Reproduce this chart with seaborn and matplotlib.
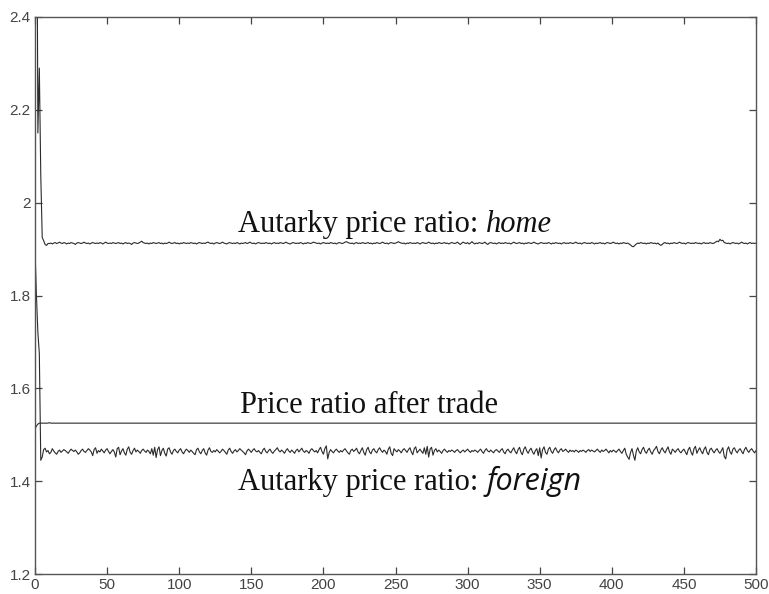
import numpy as np
import pandas as pd
import matplotlib
matplotlib.use("Agg")
import matplotlib.pyplot as plt
import seaborn as sns

# Price ratios per iteration (0..500)
home_ratio = [
    2.900, 2.900, 2.150, 2.290, 2.060, 1.925, 1.918, 1.910, 1.908, 1.912,
    1.912, 1.913, 1.911, 1.913, 1.914, 1.912, 1.913, 1.915, 1.913, 1.912, 1.914, 1.913, 1.911, 1.913, 1.912, 1.914, 1.913, 1.912, 1.910, 1.913, 1.914, 1.913, 1.912, 1.913, 1.915,
    1.913, 1.912, 1.913, 1.911, 1.913, 1.914, 1.913, 1.912, 1.913, 1.912, 1.914, 1.913, 1.911, 1.913, 1.915, 1.913, 1.912, 1.913, 1.912, 1.914, 1.913, 1.912, 1.913, 1.914, 1.912,
    1.913, 1.911, 1.913, 1.914, 1.912, 1.913, 1.912, 1.910, 1.913, 1.914, 1.913, 1.912, 1.913, 1.915, 1.917, 1.914, 1.913, 1.912, 1.913, 1.911, 1.913, 1.912, 1.914, 1.913, 1.912,
    1.913, 1.914, 1.912, 1.913, 1.911, 1.913, 1.912, 1.913, 1.915, 1.913, 1.912, 1.913, 1.914, 1.912, 1.913, 1.911, 1.913, 1.912, 1.914, 1.913, 1.912, 1.913, 1.912, 1.914, 1.913,
    1.912, 1.913, 1.911, 1.913, 1.914, 1.913, 1.912, 1.913, 1.912, 1.914, 1.915, 1.913, 1.912, 1.913, 1.911, 1.913, 1.914, 1.913, 1.912, 1.913, 1.915, 1.913, 1.912, 1.911, 1.913,
    1.914, 1.913, 1.912, 1.913, 1.912, 1.914, 1.913, 1.911, 1.913, 1.912, 1.913, 1.914, 1.912, 1.913, 1.915, 1.913, 1.912, 1.913, 1.911, 1.913, 1.914, 1.913, 1.912, 1.913, 1.912,
    1.914, 1.913, 1.912, 1.913, 1.911, 1.913, 1.914, 1.912, 1.913, 1.912, 1.914, 1.913, 1.912, 1.913, 1.915, 1.913, 1.912, 1.911, 1.913, 1.914, 1.913, 1.912, 1.913, 1.912, 1.914,
    1.913, 1.911, 1.913, 1.912, 1.914, 1.913, 1.912, 1.913, 1.915, 1.914, 1.913, 1.912, 1.913, 1.911, 1.913, 1.914, 1.913, 1.912, 1.913, 1.912, 1.914, 1.913, 1.912, 1.913, 1.911,
    1.913, 1.914, 1.913, 1.912, 1.913, 1.915, 1.916, 1.914, 1.913, 1.912, 1.913, 1.911, 1.913, 1.914, 1.912, 1.913, 1.912, 1.914, 1.913, 1.912, 1.913, 1.914, 1.912, 1.913, 1.911,
    1.913, 1.912, 1.914, 1.913, 1.912, 1.913, 1.915, 1.913, 1.912, 1.913, 1.911, 1.913, 1.914, 1.913, 1.912, 1.913, 1.914, 1.916, 1.914, 1.913, 1.912, 1.913, 1.911, 1.913, 1.912,
    1.914, 1.913, 1.912, 1.913, 1.912, 1.914, 1.913, 1.911, 1.913, 1.914, 1.913, 1.912, 1.913, 1.915, 1.913, 1.912, 1.913, 1.911, 1.913, 1.912, 1.914, 1.913, 1.912, 1.913, 1.914,
    1.912, 1.913, 1.911, 1.913, 1.914, 1.913, 1.912, 1.913, 1.915, 1.912, 1.910, 1.913, 1.915, 1.913, 1.912, 1.914, 1.911, 1.913, 1.916, 1.913, 1.911, 1.913, 1.912, 1.914, 1.913,
    1.912, 1.913, 1.915, 1.912, 1.910, 1.913, 1.914, 1.913, 1.912, 1.913, 1.911, 1.913, 1.914, 1.912, 1.913, 1.912, 1.914, 1.913, 1.912, 1.913, 1.911, 1.913, 1.915, 1.913, 1.912,
    1.913, 1.914, 1.912, 1.913, 1.911, 1.913, 1.912, 1.914, 1.913, 1.912, 1.913, 1.915, 1.913, 1.912, 1.911, 1.913, 1.914, 1.913, 1.912, 1.913, 1.912, 1.914, 1.913, 1.911, 1.913,
    1.912, 1.914, 1.913, 1.912, 1.913, 1.911, 1.913, 1.914, 1.912, 1.913, 1.912, 1.914, 1.913, 1.912, 1.913, 1.915, 1.913, 1.912, 1.913, 1.911, 1.913, 1.914, 1.913, 1.912, 1.913,
    1.912, 1.914, 1.913, 1.911, 1.913, 1.912, 1.913, 1.914, 1.912, 1.913, 1.911, 1.913, 1.914, 1.913, 1.912, 1.913, 1.915, 1.913, 1.912, 1.913, 1.911, 1.913, 1.912, 1.914, 1.913,
    1.912, 1.913, 1.911, 1.909, 1.906, 1.905, 1.908, 1.911, 1.913, 1.912, 1.914, 1.913, 1.912, 1.913, 1.911, 1.913, 1.912, 1.914, 1.913, 1.912, 1.913, 1.911, 1.913, 1.910, 1.908,
    1.910, 1.913, 1.914, 1.912, 1.913, 1.911, 1.913, 1.912, 1.914, 1.913, 1.912, 1.913, 1.915, 1.913, 1.912, 1.913, 1.911, 1.913, 1.914, 1.913, 1.912, 1.913, 1.912, 1.914, 1.913,
    1.912, 1.913, 1.911, 1.913, 1.914, 1.912, 1.913, 1.912, 1.914, 1.913, 1.912, 1.913, 1.915, 1.917, 1.916, 1.921, 1.918, 1.919, 1.914, 1.913, 1.912, 1.913, 1.911, 1.913, 1.914,
    1.913, 1.912, 1.913, 1.911, 1.913, 1.915, 1.913, 1.912, 1.913, 1.911, 1.913, 1.914, 1.912, 1.913, 1.912, 1.913,
]

trade_ratio = [
    1.512, 1.519, 1.523, 1.525, 1.525,
    1.525, 1.525, 1.525, 1.525, 1.525, 1.526, 1.525, 1.525, 1.525, 1.525, 1.525, 1.525, 1.525, 1.525, 1.525, 1.525, 1.525, 1.525, 1.525, 1.525, 1.525, 1.525, 1.525, 1.525, 1.525,
    1.525, 1.525, 1.525, 1.525, 1.525, 1.525, 1.525, 1.525, 1.525, 1.525, 1.525, 1.525, 1.525, 1.525, 1.525, 1.525, 1.525, 1.525, 1.525, 1.525, 1.525, 1.525, 1.525, 1.525, 1.525,
    1.525, 1.525, 1.525, 1.525, 1.525, 1.525, 1.525, 1.525, 1.525, 1.525, 1.525, 1.525, 1.525, 1.525, 1.525, 1.525, 1.525, 1.525, 1.525, 1.525, 1.525, 1.525, 1.525, 1.525, 1.525,
    1.525, 1.525, 1.525, 1.525, 1.525, 1.525, 1.525, 1.525, 1.525, 1.525, 1.525, 1.525, 1.525, 1.525, 1.525, 1.525, 1.525, 1.525, 1.525, 1.525, 1.525, 1.525, 1.525, 1.525, 1.525,
    1.525, 1.525, 1.525, 1.525, 1.525, 1.525, 1.525, 1.525, 1.525, 1.525, 1.525, 1.525, 1.525, 1.525, 1.525, 1.525, 1.525, 1.525, 1.525, 1.525, 1.525, 1.525, 1.525, 1.525, 1.525,
    1.525, 1.525, 1.525, 1.525, 1.525, 1.525, 1.525, 1.525, 1.525, 1.525, 1.525, 1.525, 1.525, 1.525, 1.525, 1.525, 1.525, 1.525, 1.525, 1.525, 1.525, 1.525, 1.525, 1.525, 1.525,
    1.525, 1.525, 1.525, 1.525, 1.525, 1.525, 1.525, 1.525, 1.525, 1.525, 1.525, 1.525, 1.525, 1.525, 1.525, 1.525, 1.525, 1.525, 1.525, 1.525, 1.525, 1.525, 1.525, 1.525, 1.525,
    1.525, 1.525, 1.525, 1.525, 1.525, 1.525, 1.525, 1.525, 1.525, 1.525, 1.525, 1.525, 1.525, 1.525, 1.525, 1.525, 1.525, 1.525, 1.525, 1.525, 1.525, 1.525, 1.525, 1.525, 1.525,
    1.525, 1.525, 1.525, 1.525, 1.525, 1.525, 1.525, 1.525, 1.525, 1.525, 1.525, 1.525, 1.525, 1.525, 1.525, 1.525, 1.525, 1.525, 1.525, 1.525, 1.525, 1.525, 1.525, 1.525, 1.525,
    1.525, 1.525, 1.525, 1.525, 1.525, 1.525, 1.525, 1.525, 1.525, 1.525, 1.525, 1.525, 1.525, 1.525, 1.525, 1.525, 1.525, 1.525, 1.525, 1.525, 1.525, 1.525, 1.525, 1.525, 1.525,
    1.525, 1.525, 1.525, 1.525, 1.525, 1.525, 1.525, 1.525, 1.525, 1.525, 1.525, 1.525, 1.525, 1.525, 1.525, 1.525, 1.525, 1.525, 1.525, 1.525, 1.525, 1.525, 1.525, 1.525, 1.525,
    1.525, 1.525, 1.525, 1.525, 1.525, 1.525, 1.525, 1.525, 1.525, 1.525, 1.525, 1.525, 1.525, 1.525, 1.525, 1.525, 1.525, 1.525, 1.525, 1.525, 1.525, 1.525, 1.525, 1.525, 1.525,
    1.525, 1.525, 1.525, 1.525, 1.525, 1.525, 1.525, 1.525, 1.525, 1.525, 1.525, 1.525, 1.525, 1.525, 1.525, 1.525, 1.525, 1.525, 1.525, 1.525, 1.525, 1.525, 1.525, 1.525, 1.525,
    1.525, 1.525, 1.525, 1.525, 1.525, 1.525, 1.525, 1.525, 1.525, 1.525, 1.525, 1.525, 1.525, 1.525, 1.525, 1.525, 1.525, 1.525, 1.525, 1.525, 1.525, 1.525, 1.525, 1.525, 1.525,
    1.525, 1.525, 1.525, 1.525, 1.525, 1.525, 1.525, 1.525, 1.525, 1.525, 1.525, 1.525, 1.525, 1.525, 1.525, 1.525, 1.525, 1.525, 1.525, 1.525, 1.525, 1.525, 1.525, 1.525, 1.525,
    1.525, 1.525, 1.525, 1.525, 1.525, 1.525, 1.525, 1.525, 1.525, 1.525, 1.525, 1.525, 1.525, 1.525, 1.525, 1.525, 1.525, 1.525, 1.525, 1.525, 1.525, 1.525, 1.525, 1.525, 1.525,
    1.525, 1.525, 1.525, 1.525, 1.525, 1.525, 1.525, 1.525, 1.525, 1.525, 1.525, 1.525, 1.525, 1.525, 1.525, 1.525, 1.525, 1.525, 1.525, 1.525, 1.525, 1.525, 1.525, 1.525, 1.525,
    1.525, 1.525, 1.525, 1.525, 1.525, 1.525, 1.525, 1.525, 1.525, 1.525, 1.525, 1.525, 1.525, 1.525, 1.525, 1.525, 1.525, 1.525, 1.525, 1.525, 1.525, 1.525, 1.525, 1.525, 1.525,
    1.525, 1.525, 1.525, 1.525, 1.525, 1.525, 1.525, 1.525, 1.525, 1.525, 1.525, 1.525, 1.525, 1.525, 1.525, 1.525, 1.525, 1.525, 1.525, 1.525, 1.525, 1.525, 1.525, 1.525, 1.525,
    1.525, 1.525, 1.525, 1.525, 1.525, 1.525, 1.525, 1.525, 1.525, 1.525, 1.525, 1.525, 1.525, 1.525, 1.525, 1.525, 1.525, 1.525, 1.525, 1.525, 1.525,
]

foreign_ratio = [
    1.900, 1.800, 1.720, 1.675, 1.445,
    1.452, 1.468, 1.471, 1.463, 1.466, 1.459, 1.462, 1.470, 1.465, 1.461, 1.458, 1.464, 1.467, 1.462, 1.465, 1.468, 1.466, 1.463, 1.460, 1.465, 1.469, 1.466, 1.464, 1.467, 1.463,
    1.458, 1.461, 1.466, 1.469, 1.464, 1.462, 1.466, 1.470, 1.467, 1.463, 1.455, 1.468, 1.472, 1.460, 1.466, 1.463, 1.469, 1.465, 1.461, 1.467, 1.470, 1.464, 1.459, 1.464, 1.468,
    1.463, 1.452, 1.470, 1.473, 1.457, 1.465, 1.470, 1.461, 1.456, 1.469, 1.474, 1.462, 1.458, 1.466, 1.471, 1.463, 1.467, 1.464, 1.460, 1.466, 1.469, 1.465, 1.462, 1.467, 1.464,
    1.459, 1.470, 1.456, 1.473, 1.451, 1.468, 1.474, 1.455, 1.466, 1.471, 1.460, 1.454, 1.469, 1.472, 1.463, 1.458, 1.466, 1.469, 1.464, 1.461, 1.467, 1.470, 1.463, 1.459, 1.465,
    1.469, 1.466, 1.462, 1.467, 1.464, 1.460, 1.457, 1.468, 1.471, 1.463, 1.459, 1.466, 1.470, 1.461, 1.456, 1.467, 1.472, 1.464, 1.462, 1.466, 1.463, 1.468, 1.465, 1.461, 1.464,
    1.469, 1.466, 1.462, 1.458, 1.467, 1.471, 1.464, 1.460, 1.465, 1.468, 1.463, 1.466, 1.470, 1.467, 1.464, 1.461, 1.457, 1.465, 1.469, 1.466, 1.462, 1.467, 1.470, 1.465, 1.463,
    1.466, 1.462, 1.459, 1.467, 1.471, 1.464, 1.461, 1.466, 1.469, 1.463, 1.460, 1.465, 1.468, 1.472, 1.466, 1.463, 1.467, 1.464, 1.460, 1.466, 1.470, 1.465, 1.462, 1.467, 1.464,
    1.460, 1.466, 1.469, 1.463, 1.467, 1.471, 1.465, 1.462, 1.466, 1.464, 1.460, 1.467, 1.470, 1.466, 1.463, 1.466, 1.461, 1.468, 1.473, 1.464, 1.458, 1.470, 1.476, 1.448, 1.462,
    1.468, 1.464, 1.461, 1.466, 1.469, 1.465, 1.462, 1.466, 1.463, 1.467, 1.470, 1.465, 1.461, 1.458, 1.466, 1.469, 1.464, 1.467, 1.471, 1.463, 1.459, 1.466, 1.472, 1.462, 1.456,
    1.468, 1.473, 1.463, 1.459, 1.467, 1.470, 1.464, 1.461, 1.468, 1.472, 1.466, 1.462, 1.467, 1.464, 1.458, 1.469, 1.474, 1.460, 1.455, 1.470, 1.466, 1.463, 1.468, 1.465, 1.461,
    1.467, 1.470, 1.466, 1.462, 1.468, 1.472, 1.463, 1.457, 1.470, 1.474, 1.461, 1.465, 1.469, 1.464, 1.460, 1.472, 1.458, 1.475, 1.452, 1.469, 1.473, 1.456, 1.466, 1.470, 1.463,
    1.467, 1.464, 1.460, 1.466, 1.469, 1.465, 1.462, 1.466, 1.464, 1.467, 1.465, 1.462, 1.466, 1.468, 1.464, 1.461, 1.465, 1.467, 1.463, 1.466, 1.469, 1.465, 1.462, 1.466, 1.464,
    1.467, 1.465, 1.462, 1.466, 1.469, 1.464, 1.460, 1.466, 1.470, 1.465, 1.463, 1.467, 1.464, 1.461, 1.466, 1.468, 1.465, 1.462, 1.467, 1.470, 1.463, 1.459, 1.466, 1.469, 1.464,
    1.461, 1.467, 1.472, 1.464, 1.459, 1.468, 1.473, 1.462, 1.457, 1.469, 1.474, 1.465, 1.460, 1.467, 1.471, 1.463, 1.458, 1.466, 1.470, 1.455, 1.472, 1.450, 1.468, 1.474, 1.462,
    1.458, 1.469, 1.473, 1.464, 1.460, 1.468, 1.472, 1.465, 1.461, 1.467, 1.470, 1.464, 1.466, 1.469, 1.465, 1.462, 1.467, 1.464, 1.466, 1.463, 1.467, 1.465, 1.462, 1.466, 1.464,
    1.467, 1.465, 1.462, 1.466, 1.468, 1.464, 1.467, 1.465, 1.463, 1.466, 1.469, 1.465, 1.462, 1.467, 1.464, 1.466, 1.469, 1.465, 1.461, 1.466, 1.463, 1.467, 1.465, 1.462, 1.466,
    1.469, 1.464, 1.460, 1.466, 1.471, 1.458, 1.452, 1.447, 1.462, 1.470, 1.456, 1.445, 1.465, 1.472, 1.463, 1.459, 1.468, 1.473, 1.464, 1.460, 1.467, 1.471, 1.463, 1.458, 1.466,
    1.470, 1.475, 1.464, 1.459, 1.467, 1.472, 1.465, 1.461, 1.468, 1.474, 1.463, 1.458, 1.469, 1.466, 1.462, 1.467, 1.470, 1.464, 1.461, 1.466, 1.469, 1.463, 1.457, 1.468, 1.473,
    1.462, 1.456, 1.470, 1.475, 1.460, 1.467, 1.472, 1.464, 1.459, 1.469, 1.474, 1.462, 1.457, 1.468, 1.471, 1.465, 1.461, 1.467, 1.470, 1.464, 1.460, 1.466, 1.472, 1.453, 1.448,
    1.468, 1.474, 1.463, 1.458, 1.469, 1.472, 1.465, 1.461, 1.467, 1.470, 1.464, 1.459, 1.468, 1.473, 1.466, 1.462, 1.467, 1.470, 1.465, 1.461, 1.466,
]

x_ticks = [0, 50, 100, 150, 200, 250, 300, 350, 400, 450, 500]
y_ticks = [1.2, 1.4, 1.6, 1.8, 2.0, 2.2, 2.4]
y_tick_labels = ["1.2", "1.4", "1.6", "1.8", "2", "2.2", "2.4"]

frames = []
for name, vals in [("home", home_ratio), ("trade", trade_ratio), ("foreign", foreign_ratio)]:
    frames.append(pd.DataFrame({"iteration": np.arange(len(vals)), "ratio": vals, "series": name}))
df = pd.concat(frames, ignore_index=True)

sns.set_style("ticks", {"xtick.direction": "in", "ytick.direction": "in"})

fig = plt.figure(figsize=(7.69, 5.94), dpi=100)
ax = fig.add_axes([35 / 769, 20 / 594, 721 / 769, 557 / 594])

sns.lineplot(data=df, x="iteration", y="ratio", units="series", estimator=None,
             color="#2b2b2b", linewidth=0.8, ax=ax, legend=False)

ax.set_xlim(0, 500)
ax.set_ylim(1.2, 2.4)
ax.set_xticks(x_ticks)
ax.set_yticks(y_ticks)
ax.set_yticklabels(y_tick_labels)
ax.set_xlabel("")
ax.set_ylabel("")
ax.tick_params(which="both", top=True, right=True, length=5, width=0.9,
               color="#444444", labelcolor="#444444", labelsize=11, pad=3)
for lab in ax.get_xticklabels() + ax.get_yticklabels():
    lab.set_family(["Liberation Sans Narrow", "Liberation Sans"])
for side in ["left", "right", "top", "bottom"]:
    ax.spines[side].set_visible(True)
    ax.spines[side].set_color("#555555")
    ax.spines[side].set_linewidth(1.0)

serif = "Liberation Serif"
fs = 22


def label(x, y, plain, emph, emph_family):
    t1 = ax.text(x, y, plain, family=serif, fontsize=fs, color="#111111", va="baseline", ha="left")
    fig.canvas.draw()
    bb = t1.get_window_extent(fig.canvas.get_renderer())
    x2 = ax.transData.inverted().transform((bb.x1, 0))[0]
    ax.text(x2, y, emph, family=emph_family, style="italic", fontsize=fs,
            color="#111111", va="baseline", ha="left")


label(141, 1.937, "Autarky price ratio: ", "home", serif)
ax.text(142, 1.547, "Price ratio after trade", family=serif, fontsize=fs,
        color="#111111", va="baseline", ha="left")
label(141, 1.381, "Autarky price ratio: ", "foreign", "Open Sans")

fig.savefig("out.png", dpi=100, facecolor="white")
